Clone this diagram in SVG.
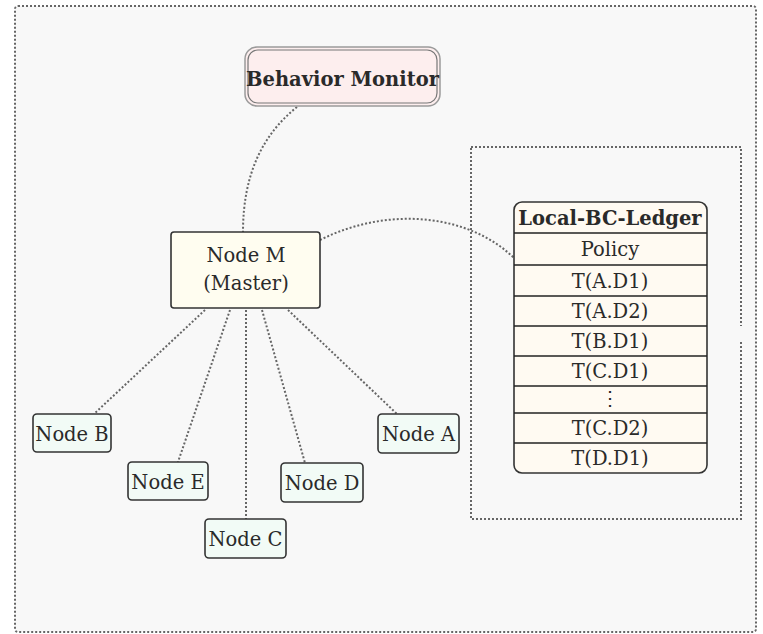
<svg xmlns="http://www.w3.org/2000/svg" width="763" height="634" viewBox="0 0 763 634">
<style>
.dot{fill:none;stroke:#666;stroke-width:2;stroke-dasharray:2 2}
.box{stroke:#333;stroke-width:1.6}
.leaf{fill:#f2fbf6}
.t{font-family:"DejaVu Serif","Liberation Serif",serif;font-size:19.5px;fill:#2a2a2a;text-anchor:middle}
.b{font-weight:bold}
.row{stroke:#222;stroke-width:1.5}
</style>
<rect x="0" y="0" width="763" height="634" fill="#ffffff"/>
<rect x="15" y="6" width="741" height="626" rx="3" fill="#f8f8f8"/>
<rect x="15" y="6" width="741" height="626" rx="3" class="dot"/>
<path class="dot" d="M471,147 H741 V326 M741,342 V519 H471 V147"/>
<g id="connectors">
<path class="dot" d="M297,107 C262,135 243,175 243,232"/>
<path class="dot" d="M320,240 C390,205 470,215 514,258"/>
<path class="dot" d="M205,310 L94,414"/>
<path class="dot" d="M230,310 L178,462"/>
<path class="dot" d="M246,310 L246,519"/>
<path class="dot" d="M262,310 L305,463"/>
<path class="dot" d="M288,310 L397,414"/>
</g>
<g id="behavior-monitor">
<rect x="245" y="47" width="195" height="59" rx="12" fill="#fdeeee" stroke="#9a9a9a" stroke-width="1.5"/>
<rect x="248" y="50" width="189" height="53" rx="10" fill="none" stroke="#777" stroke-width="1.2"/>
<text class="t b" x="342.5" y="86" font-size="20px">Behavior Monitor</text>
</g>
<g id="node-m">
<rect class="box" x="171" y="232" width="149" height="76" rx="3" fill="#fffdf0"/>
<text class="t" x="246" y="262" font-size="20px">Node M</text>
<text class="t" x="246" y="290" font-size="20px">(Master)</text>
</g>
<g id="ledger">
<rect class="box" x="514" y="202" width="193" height="271" rx="8" fill="#fffaf2"/>
<line class="row" x1="514" y1="233" x2="707" y2="233"/>
<line class="row" x1="514" y1="265" x2="707" y2="265"/>
<line class="row" x1="514" y1="296" x2="707" y2="296"/>
<line class="row" x1="514" y1="326" x2="707" y2="326"/>
<line class="row" x1="514" y1="356" x2="707" y2="356"/>
<line class="row" x1="514" y1="386" x2="707" y2="386"/>
<line class="row" x1="514" y1="413" x2="707" y2="413"/>
<line class="row" x1="514" y1="443" x2="707" y2="443"/>
<text class="t b" x="610" y="225">Local-BC-Ledger</text>
<text class="t" x="610" y="256">Policy</text>
<text class="t" x="610" y="288">T(A.D1)</text>
<text class="t" x="610" y="318">T(A.D2)</text>
<text class="t" x="610" y="348">T(B.D1)</text>
<text class="t" x="610" y="378">T(C.D1)</text>
<text class="t" x="610" y="405" font-size="15px">⋮</text>
<text class="t" x="610" y="435">T(C.D2)</text>
<text class="t" x="610" y="465">T(D.D1)</text>
</g>
<g id="node-b">
<rect class="box leaf" x="33" y="414" width="78" height="38" rx="4"/>
<text class="t" x="72" y="441">Node B</text>
</g>
<g id="node-e">
<rect class="box leaf" x="128" y="462" width="80" height="38" rx="4"/>
<text class="t" x="168" y="489">Node E</text>
</g>
<g id="node-c">
<rect class="box leaf" x="205" y="519" width="81" height="39" rx="4"/>
<text class="t" x="245.5" y="546">Node C</text>
</g>
<g id="node-d">
<rect class="box leaf" x="281" y="463" width="82" height="39" rx="4"/>
<text class="t" x="322" y="490">Node D</text>
</g>
<g id="node-a">
<rect class="box leaf" x="378" y="414" width="81" height="39" rx="4"/>
<text class="t" x="418.5" y="441">Node A</text>
</g>
</svg>
